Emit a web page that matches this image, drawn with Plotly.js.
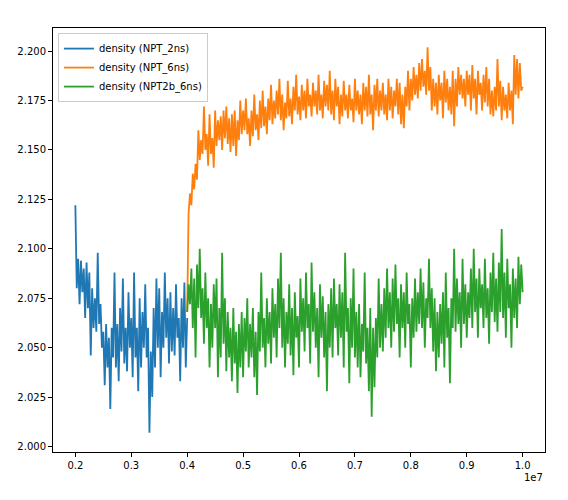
<!DOCTYPE html>
<html>
<head>
<meta charset="utf-8">
<script src="https://cdn.plot.ly/plotly-3.0.1.min.js"></script>
<style>html,body{margin:0;padding:0;background:#fff;}#chart{width:568px;height:500px;}</style>
</head>
<body>
<div id="chart"></div>
<script>
// Series names
const seriesNames = ["density (NPT_2ns)", "density (NPT_6ns)", "density (NPT2b_6ns)"];
// x span of each series (units of 1e7 steps)
const blueSpan = [0.2, 0.4];
const laterSpan = [0.4, 1.0];

// density (NPT_2ns)
const blueY = [
2.122,2.080,2.095,2.072,2.094,2.078,2.090,2.065,2.093,2.070,
2.088,2.046,2.080,2.060,2.075,2.058,2.098,2.062,2.072,2.050,
2.058,2.031,2.062,2.040,2.055,2.019,2.060,2.045,2.088,2.040,
2.062,2.033,2.070,2.048,2.085,2.042,2.060,2.038,2.078,2.050,
2.065,2.035,2.088,2.045,2.060,2.028,2.075,2.040,2.068,2.050,
2.082,2.045,2.060,2.007,2.048,2.025,2.070,2.040,2.085,2.050,
2.080,2.035,2.068,2.050,2.088,2.055,2.075,2.042,2.078,2.048,
2.070,2.046,2.082,2.055,2.065,2.033,2.075,2.050,2.083,2.040,
2.065];

// density (NPT_6ns)
const orangeY = [
2.068,2.118,2.128,2.122,2.138,2.130,2.143,2.135,2.160,2.145,
2.155,2.148,2.172,2.150,2.158,2.142,2.168,2.148,2.156,2.141,
2.170,2.152,2.165,2.155,2.167,2.150,2.170,2.156,2.172,2.153,
2.166,2.149,2.168,2.152,2.170,2.147,2.165,2.155,2.175,2.158,
2.170,2.160,2.176,2.158,2.166,2.152,2.170,2.157,2.178,2.160,
2.168,2.155,2.175,2.161,2.180,2.162,2.172,2.158,2.176,2.165,
2.183,2.163,2.175,2.166,2.180,2.168,2.186,2.165,2.178,2.160,
2.174,2.166,2.185,2.167,2.176,2.163,2.182,2.170,2.188,2.168,
2.177,2.165,2.183,2.170,2.180,2.166,2.186,2.172,2.178,2.167,
2.184,2.172,2.180,2.168,2.188,2.170,2.178,2.166,2.185,2.172,
2.183,2.170,2.190,2.168,2.180,2.165,2.186,2.172,2.182,2.163,
2.178,2.167,2.185,2.170,2.178,2.166,2.183,2.170,2.176,2.164,
2.186,2.170,2.180,2.168,2.178,2.163,2.184,2.170,2.182,2.167,
2.188,2.168,2.178,2.160,2.183,2.170,2.186,2.167,2.180,2.170,
2.184,2.168,2.178,2.165,2.186,2.170,2.182,2.166,2.180,2.172,
2.186,2.168,2.184,2.163,2.178,2.161,2.182,2.172,2.190,2.170,
2.186,2.175,2.192,2.178,2.188,2.176,2.194,2.180,2.196,2.182,
2.190,2.178,2.202,2.180,2.192,2.170,2.186,2.172,2.184,2.168,
2.188,2.175,2.184,2.166,2.190,2.174,2.186,2.170,2.182,2.168,
2.190,2.162,2.186,2.172,2.192,2.178,2.188,2.176,2.186,2.172,
2.190,2.178,2.188,2.170,2.193,2.176,2.186,2.168,2.190,2.178,
2.184,2.170,2.188,2.174,2.192,2.172,2.186,2.168,2.180,2.167,
2.182,2.170,2.196,2.172,2.185,2.165,2.182,2.170,2.178,2.166,
2.184,2.170,2.180,2.163,2.198,2.178,2.196,2.176,2.194,2.180,
2.182];

// density (NPT2b_6ns)
const greenY = [
2.068,2.082,2.072,2.090,2.060,2.085,2.045,2.092,2.070,2.100,
2.065,2.080,2.052,2.088,2.060,2.075,2.040,2.072,2.050,2.082,
2.060,2.085,2.035,2.070,2.045,2.098,2.052,2.075,2.038,2.068,
2.045,2.060,2.033,2.070,2.042,2.058,2.027,2.062,2.040,2.068,
2.035,2.065,2.048,2.075,2.040,2.062,2.045,2.070,2.035,2.058,
2.026,2.068,2.048,2.088,2.050,2.065,2.040,2.075,2.052,2.068,
2.042,2.080,2.055,2.072,2.045,2.085,2.060,2.098,2.050,2.075,
2.040,2.068,2.052,2.082,2.046,2.070,2.036,2.078,2.055,2.066,
2.040,2.085,2.058,2.075,2.048,2.088,2.060,2.072,2.042,2.093,
2.058,2.078,2.050,2.070,2.035,2.082,2.055,2.076,2.045,2.068,
2.028,2.072,2.050,2.080,2.045,2.085,2.060,2.072,2.046,2.082,
2.055,2.078,2.040,2.098,2.058,2.070,2.032,2.075,2.050,2.090,
2.045,2.068,2.040,2.072,2.035,2.062,2.048,2.088,2.042,2.060,
2.028,2.070,2.015,2.060,2.030,2.065,2.045,2.085,2.050,2.072,
2.048,2.080,2.055,2.090,2.060,2.078,2.050,2.085,2.058,2.092,
2.062,2.075,2.045,2.082,2.060,2.078,2.050,2.088,2.062,2.072,
2.040,2.075,2.055,2.085,2.058,2.078,2.062,2.090,2.060,2.083,
2.050,2.075,2.065,2.095,2.060,2.080,2.048,2.075,2.038,2.068,
2.045,2.072,2.052,2.078,2.040,2.088,2.055,2.070,2.032,2.075,
2.060,2.100,2.058,2.085,2.062,2.078,2.050,2.095,2.062,2.082,
2.055,2.078,2.065,2.090,2.060,2.100,2.068,2.085,2.055,2.090,
2.070,2.082,2.060,2.095,2.065,2.080,2.052,2.088,2.068,2.098,
2.063,2.085,2.058,2.093,2.068,2.110,2.065,2.088,2.055,2.095,
2.070,2.082,2.050,2.090,2.065,2.085,2.060,2.096,2.072,2.092,
2.078];

const yTicks = ["2.000","2.025","2.050","2.075","2.100","2.125","2.150","2.175","2.200"];
const xTicks = ["0.2","0.3","0.4","0.5","0.6","0.7","0.8","0.9","1.0"];
const xOffsetLabel = "1e7";

function spread(span, n) {
  const out = [];
  for (let i = 0; i < n; i++) out.push(span[0] + (span[1] - span[0]) * i / (n - 1));
  return out;
}

const colors = ["#1f77b4", "#ff7f0e", "#2ca02c"];
const ys = [blueY, orangeY, greenY];
const spans = [blueSpan, laterSpan, laterSpan];

const traces = ys.map((y, k) => ({
  type: "scatter",
  mode: "lines",
  name: seriesNames[k],
  x: spread(spans[k], y.length),
  y: y,
  line: {color: colors[k], width: 1.8}
}));

const font = {family: "DejaVu Sans, sans-serif", size: 10, color: "#000"};

const layout = {
  width: 568, height: 500,
  margin: {l: 53, r: 23, t: 28, b: 48, pad: 0},
  paper_bgcolor: "#fff", plot_bgcolor: "#fff",
  font: font,
  showlegend: true,
  legend: {
    x: 0.01, y: 0.988, xanchor: "left", yanchor: "top",
    bgcolor: "rgba(255,255,255,0.8)", bordercolor: "#cccccc", borderwidth: 1,
    font: font, tracegroupgap: 0
  },
  xaxis: {
    range: [0.16, 1.04],
    tickvals: xTicks.map(Number), ticktext: xTicks,
    ticks: "outside", ticklen: 4, tickwidth: 1, tickcolor: "#000",
    showline: true, linecolor: "#000", linewidth: 1, mirror: true,
    showgrid: false, zeroline: false, tickfont: font
  },
  yaxis: {
    range: [1.9972, 2.2117],
    tickvals: yTicks.map(Number), ticktext: yTicks,
    ticks: "outside", ticklen: 4, tickwidth: 1, tickcolor: "#000",
    showline: true, linecolor: "#000", linewidth: 1, mirror: true,
    showgrid: false, zeroline: false, tickfont: font
  },
  annotations: [{
    text: xOffsetLabel, xref: "paper", yref: "paper", x: 1, y: 0,
    xanchor: "right", yanchor: "top", yshift: -18, showarrow: false, font: font
  }]
};

Plotly.newPlot("chart", traces, layout, {displayModeBar: false, staticPlot: true});
</script>
</body>
</html>
